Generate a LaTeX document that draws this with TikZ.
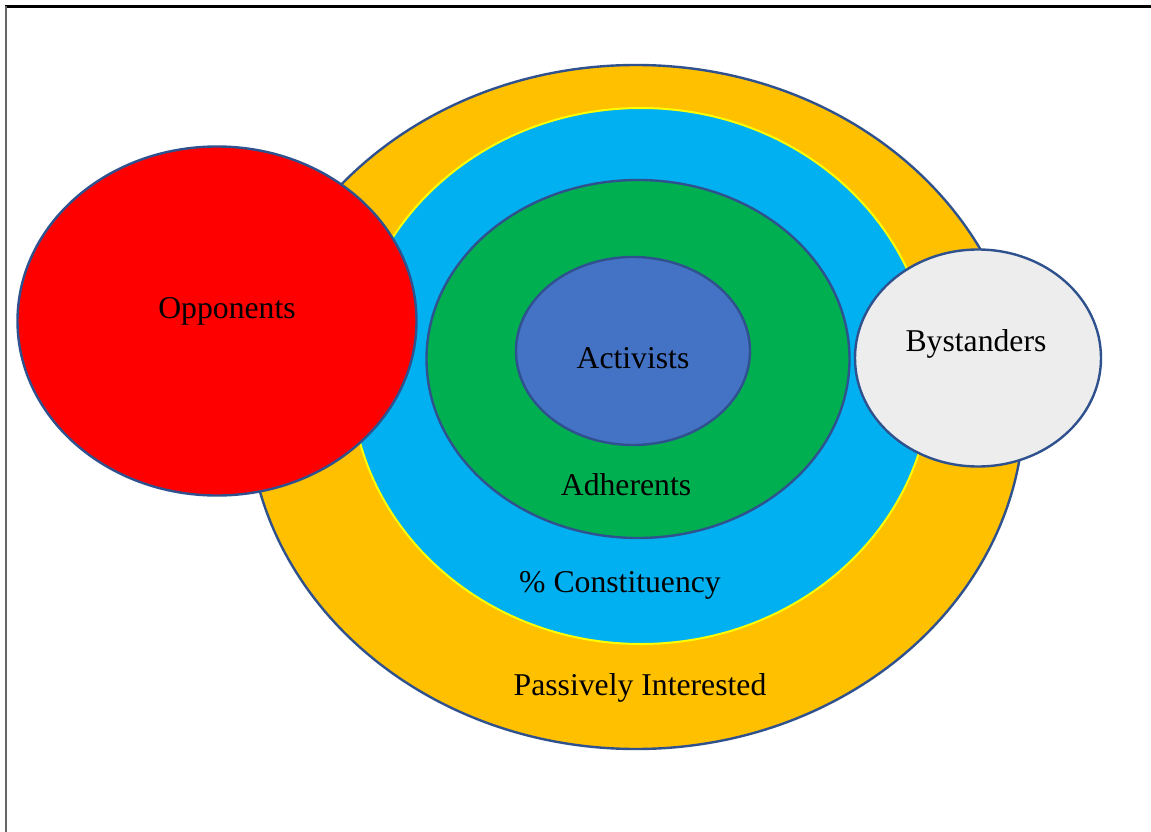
\documentclass[tikz,border=0pt]{standalone}
\usepackage{fontspec}
\setmainfont{Liberation Serif}
\usetikzlibrary{shapes.geometric}
\definecolor{ringyellow}{HTML}{FFC000}
\definecolor{ringblue}{HTML}{00B0F0}
\definecolor{ringgreen}{HTML}{00B050}
\definecolor{coreblue}{HTML}{4472C4}
\definecolor{oppred}{HTML}{FF0000}
\definecolor{bygrey}{HTML}{EDEDED}
\definecolor{edgeblue}{HTML}{2F528F}
\definecolor{hilite}{HTML}{FFFF00}
\tikzset{
  blob/.style={ellipse, draw=edgeblue, line width=2.4pt, inner sep=0pt},
  lbl/.style={font=\fontsize{31.7}{38}\selectfont, text=black, inner sep=0pt}
}
\begin{document}
\begin{tikzpicture}[x=1pt,y=-1pt]
\useasboundingbox (0,0) rectangle (1151,832);
\fill[white] (0,0) rectangle (1151,832);
% frame
\draw[black, line width=3pt] (5,6.5) -- (1151,6.5);
\draw[black!60, line width=2pt] (6,6.5) -- (6,832);
% rings
\node[blob, fill=ringyellow, minimum width=776pt, minimum height=684pt] (passive) at (636,407) {};
\node[ellipse, draw=hilite, line width=2pt, fill=ringblue, minimum width=580pt, minimum height=536pt, inner sep=0pt] (constit) at (641,376) {};
\node[blob, fill=ringgreen, minimum width=423pt, minimum height=358pt] (adher) at (638,359) {};
\node[blob, fill=coreblue, minimum width=234pt, minimum height=188pt] (activ) at (633,351) {};
\node[blob, fill=oppred, minimum width=399pt, minimum height=349pt] (oppo) at (217,321) {};
\node[blob, fill=bygrey, minimum width=246pt, minimum height=217pt] (bystand) at (978,358) {};
% labels
\node[lbl] (toppo) at (227,311) {Opponents};
\node[lbl] (tactiv) at (633,358) {Activists};
\node[lbl] (tadher) at (626,485) {Adherents};
\node[lbl] (tconst) at (620,585) {\% Constituency};
\node[lbl] (tpass) at (640,688) {Passively Interested};
\node[lbl] (tbyst) at (976,344) {Bystanders};
\end{tikzpicture}
\end{document}
